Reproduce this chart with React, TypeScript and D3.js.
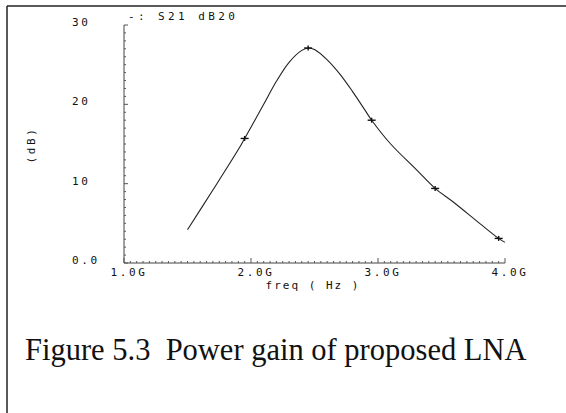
import React from 'react';
import * as d3 from 'd3';

// S21 (dB20) vs frequency
const freqGHz = [1.5, 1.7, 1.9, 1.95, 2.1, 2.2, 2.3, 2.4, 2.45, 2.5, 2.6, 2.7, 2.8, 2.9, 2.95, 3.1, 3.3, 3.45, 3.6, 3.8, 3.95, 4.0];
const gainDb = [4.2, 9.2, 14.3, 15.7, 20.0, 22.9, 25.3, 26.8, 27.1, 26.9, 25.6, 23.8, 21.6, 19.2, 18.0, 15.0, 11.8, 9.4, 7.6, 5.0, 3.1, 2.6];
const markerFreqs = [1.95, 2.45, 2.95, 3.45, 3.95];

const xTicks = [1, 2, 3, 4];
const xTickLabels = ['1.0G', '2.0G', '3.0G', '4.0G'];
const yTicks = [0, 10, 20, 30];
const yTickLabels = ['0.0', '10', '20', '30'];

const legendText = '-: S21 dB20';
const xTitle = 'freq ( Hz )';
const yTitle = '(dB)';
const caption = 'Figure 5.3  Power gain of proposed LNA';

const W = 566, H = 413;
const mono = '"DejaVu Sans Mono", monospace';

export default function App() {
    const x = d3.scaleLinear().domain([1, 4]).range([124, 505]);
    const y = d3.scaleLinear().domain([0, 30]).range([263, 25]);

    const pts: [number, number][] = freqGHz.map((f, i) => [f, gainDb[i]]);
    const line = d3.line<[number, number]>()
        .x(d => x(d[0]))
        .y(d => y(d[1]))
        .curve(d3.curveCatmullRom);

    const markers = markerFreqs.map(f => pts[freqGHz.indexOf(f)]);

    // minor ticks
    const yMinor = d3.range(0, 31, 1);
    const xMinor = d3.range(1, 4.001, 0.05);

    const labelStyle = { fontFamily: mono, fontSize: 11, letterSpacing: 2.6, fill: '#111' };

    return (
        <svg width={W} height={H} style={{ position: 'absolute', left: 0, top: 0, background: '#fff' }}>
            {/* page frame */}
            <line x1={7} y1={6} x2={W} y2={6} stroke="#222" strokeWidth={1.5} />
            <line x1={7} y1={6} x2={7} y2={H} stroke="#222" strokeWidth={1.5} />

            {/* axes */}
            <line x1={x(1)} y1={y(30)} x2={x(1)} y2={y(0)} stroke="#444" strokeWidth={1} />
            <line x1={x(1)} y1={y(0)} x2={x(4)} y2={y(0)} stroke="#444" strokeWidth={1} />
            {yMinor.map(v => (
                <line key={'ym' + v} x1={x(1)} x2={x(1) + (v % 10 === 0 ? 4 : 2)} y1={y(v)} y2={y(v)} stroke="#555" strokeWidth={1} />
            ))}
            {xMinor.map((v, i) => (
                <line key={'xm' + i} x1={x(v)} x2={x(v)} y1={y(0)} y2={y(0) - (i % 20 === 0 ? 5 : 2)} stroke="#555" strokeWidth={1} />
            ))}

            {yTicks.map((v, i) => (
                <text key={'yt' + v} x={72} y={y(v) - 3} dy="0.35em" style={labelStyle}>{yTickLabels[i]}</text>
            ))}
            {xTicks.map((v, i) => (
                <text key={'xt' + v} x={x(v) + 5} y={272} dy="0.35em" textAnchor="middle" style={labelStyle}>{xTickLabels[i]}</text>
            ))}

            <text x={313} y={285} dy="0.35em" textAnchor="middle" style={{ ...labelStyle, letterSpacing: 2.0 }}>{xTitle}</text>
            <text transform={`translate(31,145) rotate(-90)`} dy="0.35em" textAnchor="middle" style={labelStyle}>{yTitle}</text>

            <text x={128} y={16} dy="0.35em" style={{ ...labelStyle, fontSize: 11, letterSpacing: 3.4 }}>{legendText}</text>

            {/* curve */}
            <path d={line(pts) || ''} fill="none" stroke="#222" strokeWidth={1.1} />
            {markers.map((d, i) => (
                <g key={'mk' + i} transform={`translate(${x(d[0])},${y(d[1])})`} stroke="#111" strokeWidth={1.4}>
                    <line x1={-4} x2={4} y1={0} y2={0} />
                    <line x1={0} x2={0} y1={-2.5} y2={2.5} />
                </g>
            ))}

            <text x={25} y={360} style={{ fontFamily: '"Liberation Serif", "Times New Roman", serif', fontSize: 30.5, fill: '#111', whiteSpace: 'pre' }}>{caption}</text>
        </svg>
    );
}
